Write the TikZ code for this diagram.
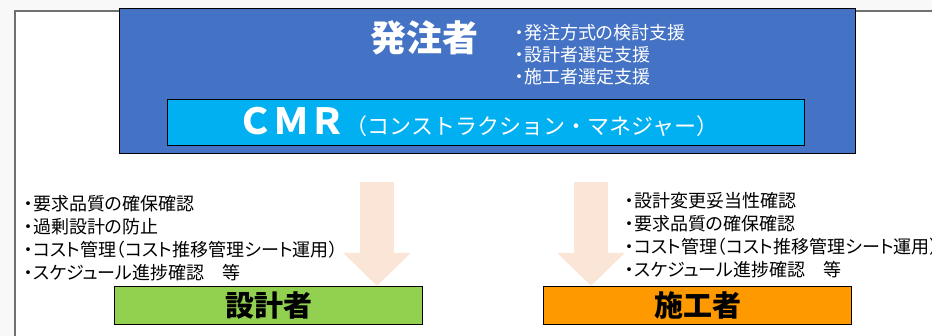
\documentclass[tikz,border=0pt]{standalone}
\usepackage{fontspec}
\setmainfont{Noto Sans CJK JP}
\newfontfamily\propfont[RawFeature=+palt]{Noto Sans CJK JP}
\usepackage{tikz}
\usetikzlibrary{arrows.meta, positioning}
\definecolor{ownerBlue}{HTML}{4472C4}
\definecolor{cmrCyan}{HTML}{00B0F0}
\definecolor{designGreen}{HTML}{92D050}
\definecolor{buildOrange}{HTML}{FF9900}
\definecolor{flowPeach}{HTML}{FBE5D6}
\definecolor{pageGray}{HTML}{F8F8F8}
\definecolor{frameGray}{HTML}{707070}
\tikzset{
    ownerbox/.style={rectangle, draw=black, fill=ownerBlue, minimum width=736, minimum height=145},
    cmrbox/.style={rectangle, draw=black, thick, fill=cmrCyan, minimum width=637, minimum height=46, inner sep=0pt},
    rolebox/.style={rectangle, draw=black, minimum width=308, minimum height=38, inner sep=0pt, font=\fontsize{29}{29}\selectfont\bfseries},
    bullets/.style={anchor=west, align=left, inner sep=0pt, font=\propfont\fontsize{18}{23}\selectfont},
    flow/.style={draw=flowPeach, line width=34, -{Triangle[width=66, length=33]}}
}

\begin{document}
\begin{tikzpicture}[x=1pt, y=-1pt]
        \useasboundingbox (0,0) rectangle (932,336);
        \clip (0,0) rectangle (932,336);
        % page and panel frame
        \fill[pageGray] (0,0) rectangle (932,336);
        \fill[white] (15,11) rectangle (940,340);
        \draw[frameGray, line width=1.5] (15,340) -- (15,11) -- (940,11);

        % Owner with CMR inside
        \node (owner) [ownerbox] at (487, 80.5) {};
        \node (ownerTitle) [text=white, inner sep=0pt, font=\fontsize{36}{36}\selectfont\bfseries] at (424.5, 38) {発注者};
        \node (ownerTasks) [bullets, text=white, font=\propfont\fontsize{18}{22}\selectfont] at (515, 55) {・発注方式の検討支援\\・設計者選定支援\\・施工者選定支援};
        \node (cmr) [cmrbox] at (485.5, 122) {};
        \node (cmrText) [text=white, inner sep=0pt] at (478, 122) {{\fontsize{36}{36}\selectfont\bfseries ＣＭＲ}{\fontsize{22}{22}\selectfont （コンストラクション・マネジャー）}};

        % Designer and builder
        \node (designer) [rolebox, fill=designGreen] at (268.5, 305) {設計者};
        \node (builder) [rolebox, fill=buildOrange] at (697.5, 305) {施工者};
        \node (designTasks) [bullets] at (24, 238.5) {・要求品質の確保確認\\・過剰設計の防止\\・コスト管理（コスト推移管理シート運用）\\・スケジュール進捗確認　等};
        \node (buildTasks) [bullets] at (625, 235) {・設計変更妥当性確認\\・要求品質の確保確認\\・コスト管理（コスト推移管理シート運用）\\・スケジュール進捗確認　等};

        % Flow arrows
        \coordinate (designFlow) at (377, 182);
        \coordinate (buildFlow) at (591, 182);
        \draw[flow] (designFlow) -- (designFlow |- designer.north);
        \draw[flow] (buildFlow) -- (buildFlow |- builder.north);
    \end{tikzpicture}
\end{document}
